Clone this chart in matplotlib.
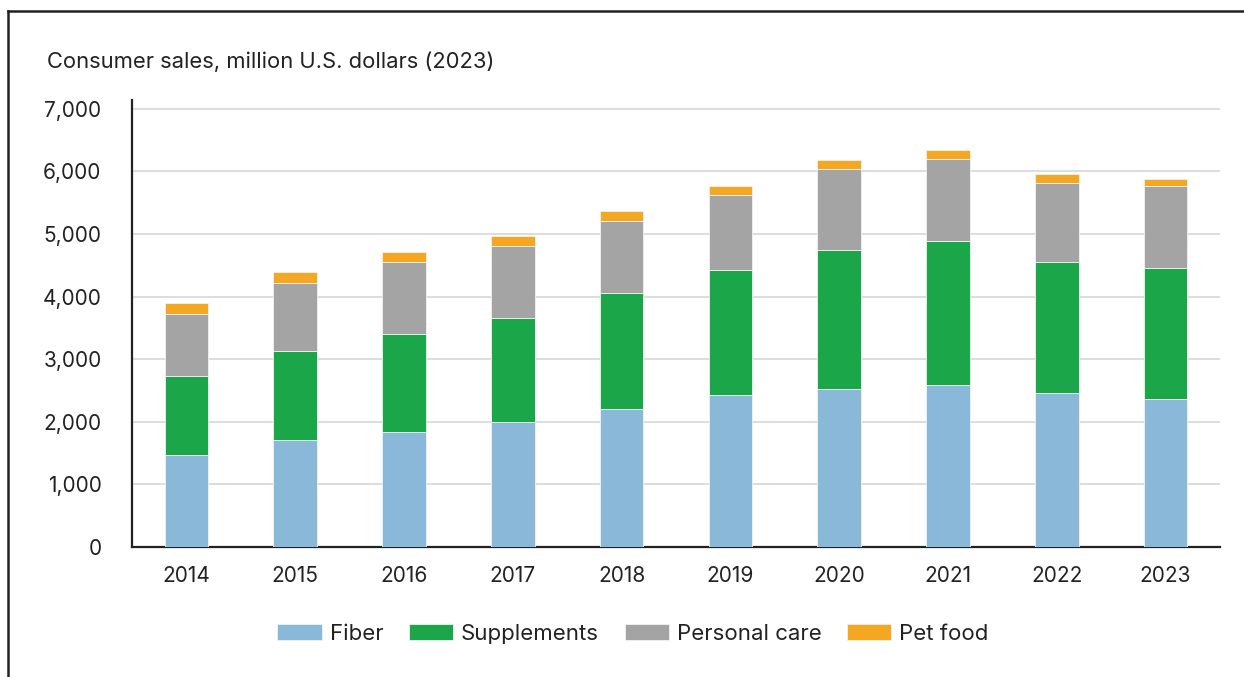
import matplotlib.pyplot as plt
from matplotlib.lines import Line2D
import numpy as np

plt.rcParams['font.family'] = ['Inter', 'DejaVu Sans']

years = ["2014", "2015", "2016", "2017", "2018", "2019", "2020", "2021", "2022", "2023"]
fiber = [1470, 1705, 1838, 1998, 2211, 2429, 2525, 2589, 2461, 2365]
supplements = [1263, 1432, 1561, 1667, 1848, 2003, 2217, 2297, 2099, 2099]
personal_care = [991, 1082, 1151, 1140, 1156, 1194, 1288, 1304, 1262, 1306]
pet_food = [170, 171, 165, 155, 155, 144, 144, 144, 139, 116]

series = [("Fiber", fiber, "#8ab8d9"),
          ("Supplements", supplements, "#1ca64a"),
          ("Personal care", personal_care, "#a4a4a4"),
          ("Pet food", pet_food, "#f4a720")]

txt = "#222222"

fig = plt.figure(figsize=(12.44, 6.77), dpi=100)
ax = fig.add_axes([132 / 1244, 1 - 547 / 677, (1220 - 132) / 1244, (547 - 100) / 677])

x = np.arange(len(years))
bottom = np.zeros(len(years))
for name, vals, col in series:
    ax.bar(x, vals, width=0.4, bottom=bottom, color=col, label=name,
           edgecolor="#f2f2f2", linewidth=0.6, zorder=3)
    bottom += np.array(vals)

ax.set_xlim(-0.5, len(years) - 0.5)
ax.set_ylim(0, 7140)
ax.set_yticks(np.arange(0, 7001, 1000))
ax.set_yticklabels([f"{v:,}" for v in range(0, 7001, 1000)])
ax.set_xticks(x)
ax.set_xticklabels(years)
ax.grid(axis="y", color="#d3d3d3", linewidth=1.1, zorder=0)
ax.tick_params(axis="y", length=0, pad=22, labelsize=15, labelcolor=txt)
ax.tick_params(axis="x", length=0, pad=14, labelsize=15, labelcolor=txt)
for s in ["top", "right"]:
    ax.spines[s].set_visible(False)
for s in ["left", "bottom"]:
    ax.spines[s].set_color(txt)
    ax.spines[s].set_linewidth(1.6)

fig.text(47 / 1244, 1 - 62 / 677, "Consumer sales, million U.S. dollars (2023)",
         ha="left", va="center", fontsize=15.8, color=txt)

leg = fig.legend(loc="center", bbox_to_anchor=(633 / 1244, 1 - 634 / 677), ncol=4,
                 frameon=False, fontsize=16, handlelength=2.0, handleheight=0.75,
                 handletextpad=0.35, columnspacing=1.15)
for t in leg.get_texts():
    t.set_color(txt)

# frame around the figure (top and left edges)
fig.add_artist(Line2D([8 / 1244, 8 / 1244], [0, 1 - 11 / 677], transform=fig.transFigure,
                      color=txt, linewidth=1.8))
fig.add_artist(Line2D([8 / 1244, 1], [1 - 11 / 677, 1 - 11 / 677], transform=fig.transFigure,
                      color=txt, linewidth=1.8))

fig.savefig("out.png", dpi=100)
